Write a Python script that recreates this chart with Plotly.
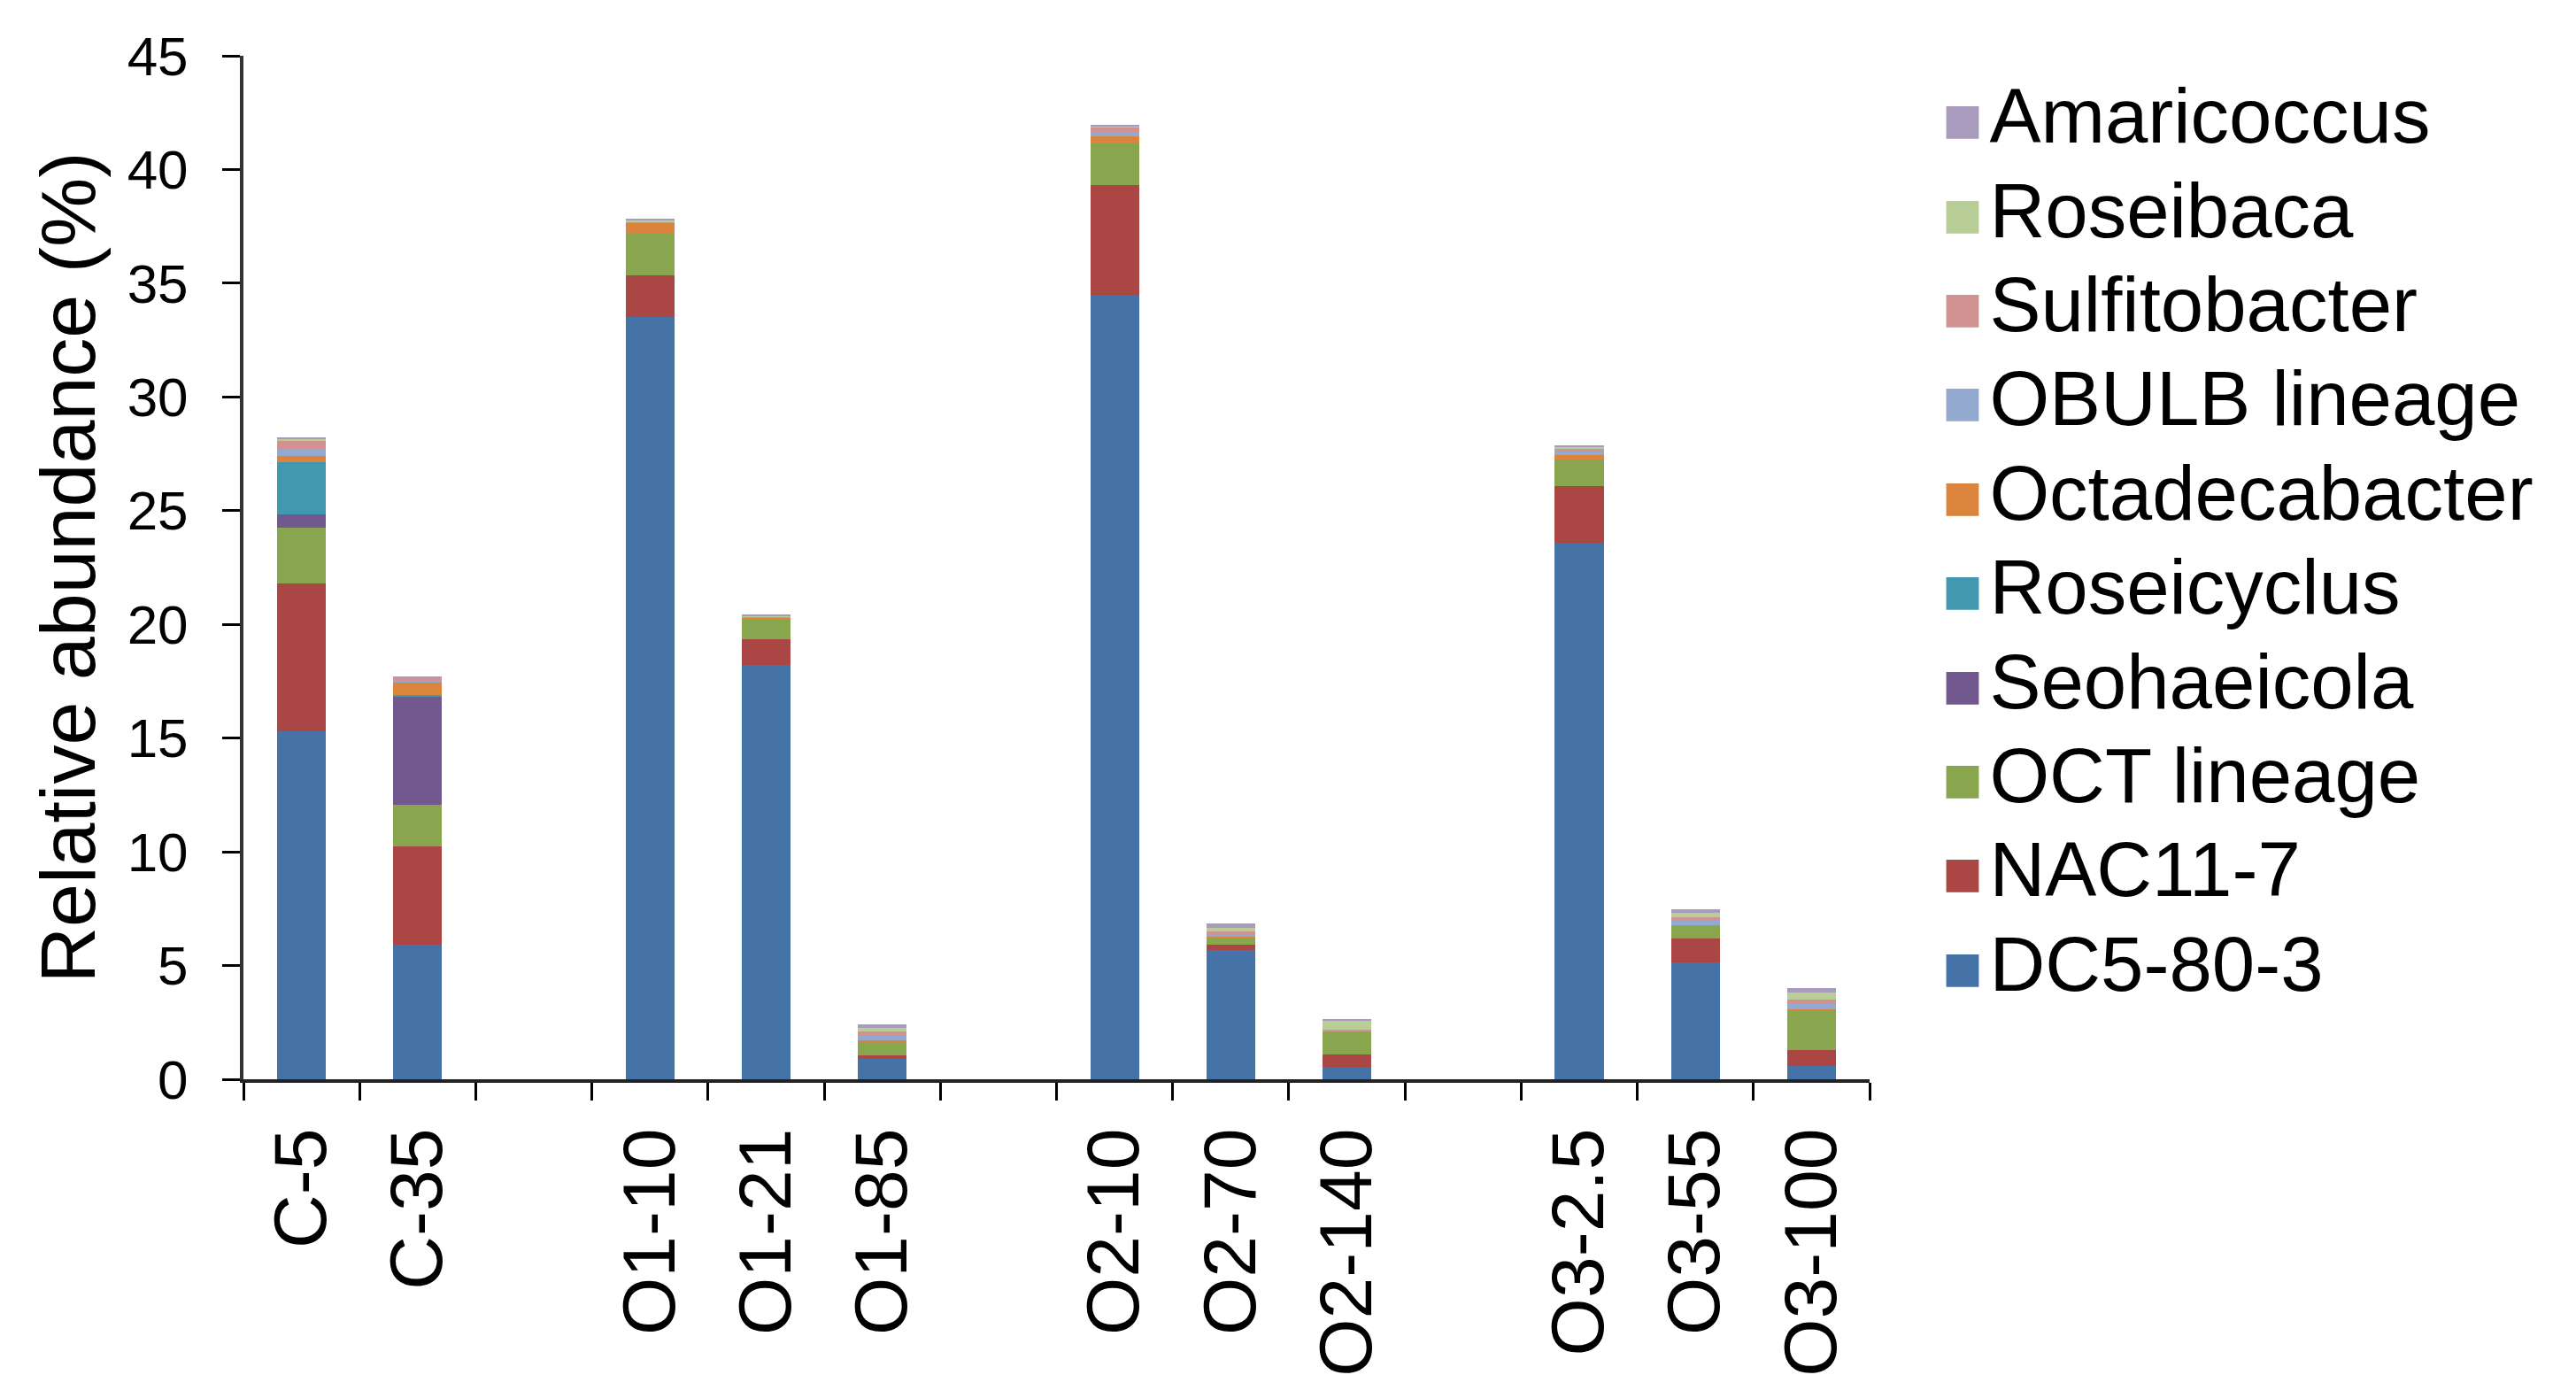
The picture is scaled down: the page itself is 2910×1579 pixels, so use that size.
import plotly.graph_objects as go

# sample groups, a blank slot sits between consecutive groups
groups = [
    ["C-5", "C-35"],
    ["O1-10", "O1-21", "O1-85"],
    ["O2-10", "O2-70", "O2-140"],
    ["O3-2.5", "O3-55", "O3-100"],
]
samples = [s for g in groups for s in g]

# relative abundance (%) per genus, in sample order
dc5_80_3 = [15.3, 5.9, 33.5, 18.2, 0.9, 34.5, 5.7, 0.55, 23.6, 5.15, 0.6]
nac11_7 = [6.5, 4.35, 1.85, 1.15, 0.15, 4.8, 0.2, 0.55, 2.5, 1.05, 0.7]
oct_lineage = [2.45, 1.8, 1.85, 0.85, 0.6, 1.85, 0.3, 1.0, 1.15, 0.55, 1.75]
seohaeicola = [0.6, 4.75, 0, 0, 0, 0, 0, 0, 0, 0, 0]
roseicyclus = [2.3, 0.1, 0, 0, 0, 0, 0, 0, 0, 0, 0]
octadecabacter = [0.25, 0.55, 0.45, 0.1, 0.05, 0.3, 0.05, 0.02, 0.2, 0.02, 0.02]
obulb_lineage = [0.3, 0.05, 0.02, 0.02, 0.2, 0.2, 0.1, 0.02, 0.15, 0.25, 0.25]
sulfitobacter = [0.4, 0.15, 0.02, 0.02, 0.2, 0.2, 0.15, 0.05, 0.15, 0.1, 0.2]
roseibaca = [0.05, 0.02, 0.1, 0.05, 0.15, 0.05, 0.15, 0.4, 0.05, 0.2, 0.3]
amaricoccus = [0.05, 0.02, 0.02, 0.02, 0.15, 0.05, 0.2, 0.03, 0.05, 0.15, 0.2]

series = [
    ("DC5-80-3", dc5_80_3, "#4572A7"),
    ("NAC11-7", nac11_7, "#AA4643"),
    ("OCT lineage", oct_lineage, "#89A54E"),
    ("Seohaeicola", seohaeicola, "#71588F"),
    ("Roseicyclus", roseicyclus, "#4198AF"),
    ("Octadecabacter", octadecabacter, "#DB843D"),
    ("OBULB lineage", obulb_lineage, "#93A9CF"),
    ("Sulfitobacter", sulfitobacter, "#D19392"),
    ("Roseibaca", roseibaca, "#B9CD96"),
    ("Amaricoccus", amaricoccus, "#A99BBD"),
]

# category axis with blank spacer slots
categories = []
for i, g in enumerate(groups):
    categories += g
    if i < len(groups) - 1:
        categories.append(" " * (i + 1))


def with_gaps(values):
    lookup = dict(zip(samples, values))
    return [lookup.get(c) for c in categories]


FONT = "Arial, Liberation Sans, sans-serif"

fig = go.Figure()
for name, vals, color in series:
    fig.add_trace(go.Bar(
        x=categories,
        y=with_gaps(vals),
        name=name,
        marker=dict(color=color, line=dict(width=0)),
        showlegend=False,
        legendgroup=name,
    ))

# legend entries: the key square is drawn as a coloured glyph so it can be
# as big as in the original (plotly caps legend symbol size)
for name, vals, color in series:
    label = ('<span style="color:%s;font-size:76px">\u25a0</span>'
             '<span style="font-size:87px">\u200a%s</span>' % (color, name))
    fig.add_trace(go.Scatter(
        x=[None], y=[None], mode="markers", legendgroup=name, name=label,
        marker=dict(symbol="square", size=1, color="rgba(0,0,0,0)"),
    ))

fig.update_layout(
    width=2910,
    height=1579,
    barmode="stack",
    bargap=0.58,
    plot_bgcolor="white",
    paper_bgcolor="white",
    margin=dict(l=267, r=806, t=55, b=368),
    font=dict(family=FONT, color="black"),
    legend=dict(
        traceorder="reversed",
        x=1.023, xanchor="left",
        y=0.992, yanchor="top",
        itemwidth=30,
        font=dict(size=79.5, family=FONT),
        bgcolor="rgba(0,0,0,0)",
    ),
    xaxis=dict(
        type="category",
        categoryorder="array",
        categoryarray=categories,
        tickangle=-90,
        tickfont=dict(size=84),
        tickson="boundaries",
        ticks="outside",
        ticklen=20,
        tickwidth=3,
        tickcolor="black",
        showline=True,
        linecolor="#222222",
        linewidth=4,
        showgrid=False,
        ticklabelstandoff=18,
    ),
    yaxis=dict(
        range=[0, 45],
        dtick=5,
        tickfont=dict(size=62),
        ticks="outside",
        ticklen=20,
        tickwidth=3,
        tickcolor="black",
        showline=True,
        linecolor="#333333",
        linewidth=4,
        showgrid=False,
        zeroline=False,
        ticklabelstandoff=26,
        title=dict(text="Relative abundance (%)", font=dict(size=88), standoff=8),
    ),
)

fig.write_html("out.html")
